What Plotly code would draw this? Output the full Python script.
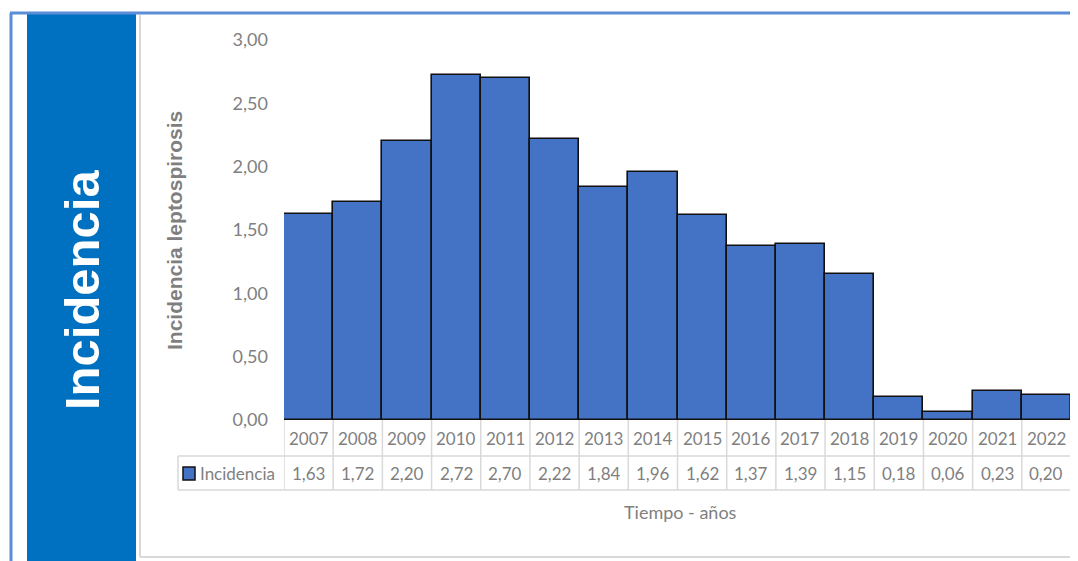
import plotly.graph_objects as go

# ---- data ----
years = ["2007", "2008", "2009", "2010", "2011", "2012", "2013", "2014",
         "2015", "2016", "2017", "2018", "2019", "2020", "2021", "2022"]
incidencia = [1.63, 1.72, 2.20, 2.72, 2.70, 2.22, 1.84, 1.96,
              1.62, 1.37, 1.39, 1.15, 0.18, 0.06, 0.23, 0.20]
y_ticks = [0, 0.5, 1.0, 1.5, 2.0, 2.5, 3.0]
series_name = "Incidencia"
panel_title = "Incidencia"
y_title = "Incidencia leptospirosis"
x_title = "Tiempo - años"

W, H = 1078, 561
OFF = 8  # page body margin offset
def px(x):
    return (x - OFF) / W
def py(y):
    return 1 - (y - OFF) / H

BAR = "#4472C4"
GRID = "#d9d9d9"
TXT = "#7f7f7f"
FONT = "Lato"

idx = list(range(len(years)))

fig = go.Figure()
fig.add_trace(go.Bar(
    x=idx, y=incidencia, width=1.0,
    marker=dict(color=BAR, line=dict(color="#111111", width=1.6)),
    hoverinfo="x+y", showlegend=False,
))

shapes = []
annotations = []

def ann(x, y, text, size, color=TXT, family=FONT, xref="paper", xanchor="center", angle=0):
    annotations.append(dict(x=x, y=y, xref=xref, yref="paper", text=text, showarrow=False,
                            xanchor=xanchor, yanchor="middle", textangle=angle,
                            font=dict(family=family, size=size, color=color)))

RIGHT = px(1078)
PLOT_RIGHT = px(1071)
# outer frame (top & left)
shapes.append(dict(type="line", xref="paper", yref="paper", x0=px(10), x1=RIGHT,
                   y0=py(13), y1=py(13), line=dict(color="#5B8ED6", width=3)))
shapes.append(dict(type="line", xref="paper", yref="paper", x0=px(11), x1=px(11),
                   y0=py(13), y1=0, line=dict(color="#5B8ED6", width=3)))
# blue side panel
shapes.append(dict(type="rect", xref="paper", yref="paper", x0=px(27), x1=px(136),
                   y0=0, y1=py(14), fillcolor="#0070C0", line=dict(width=0), layer="below"))
# chart area border (left & bottom)
shapes.append(dict(type="line", xref="paper", yref="paper", x0=px(140), x1=px(140),
                   y0=py(15), y1=py(557), line=dict(color=GRID, width=2)))
shapes.append(dict(type="line", xref="paper", yref="paper", x0=px(140), x1=RIGHT,
                   y0=py(557), y1=py(557), line=dict(color=GRID, width=2)))

# data table
row1_bot = py(456)
row2_bot = py(490)
top = py(420)
legend_left = px(178)
shapes.append(dict(type="line", xref="paper", yref="paper", x0=legend_left, x1=RIGHT,
                   y0=row1_bot, y1=row1_bot, line=dict(color=GRID, width=1.5)))
shapes.append(dict(type="line", xref="paper", yref="paper", x0=legend_left, x1=RIGHT,
                   y0=row2_bot, y1=row2_bot, line=dict(color=GRID, width=1.5)))
shapes.append(dict(type="line", xref="paper", yref="paper", x0=legend_left, x1=legend_left,
                   y0=row1_bot, y1=row2_bot, line=dict(color=GRID, width=1.5)))
for i in range(len(years) + 1):
    shapes.append(dict(type="line", xref="x", yref="paper", x0=i - 0.5, x1=i - 0.5,
                       y0=top, y1=row2_bot, line=dict(color=GRID, width=1.5), layer="below"))
for i, (yr, v) in enumerate(zip(years, incidencia)):
    ann(i, py(438), yr, 17, xref="x")
    ann(i, py(473), f"{v:.2f}".replace(".", ","), 17, xref="x")
# legend key in table
shapes.append(dict(type="rect", xref="paper", yref="paper", x0=px(183), x1=px(195),
                   y0=py(480), y1=py(467), fillcolor=BAR, line=dict(color="#111111", width=1.5)))
ann(px(198), py(473), series_name, 17, xanchor="left")

# titles
ann(px(82), py(290), f"<b>{panel_title}</b>", 49, color="white", family="Liberation Sans", angle=-90)
ann(px(175), py(231), f"<b>{y_title}</b>", 21, family="Liberation Sans", angle=-90)
ann(px(681), py(512), x_title, 18)

fig.update_layout(
    width=W, height=H,
    margin=dict(l=0, r=0, t=0, b=0, pad=0),
    paper_bgcolor="white", plot_bgcolor="rgba(0,0,0,0)",
    separators=",.",
    bargap=0,
    shapes=shapes, annotations=annotations,
    xaxis=dict(domain=[px(284), PLOT_RIGHT], range=[-0.5, 15.5], showticklabels=False,
               showgrid=False, zeroline=False, showline=False, fixedrange=True,
               automargin=False),
    yaxis=dict(domain=[py(420), py(40)], range=[0, 3], tickvals=y_ticks, tickformat=".2f",
               showgrid=False, zeroline=False, showline=False, ticks="",
               ticklabelstandoff=15, automargin=False,
               tickfont=dict(family=FONT, size=18, color=TXT), fixedrange=True),
    showlegend=False,
)

fig.write_html("out.html")
